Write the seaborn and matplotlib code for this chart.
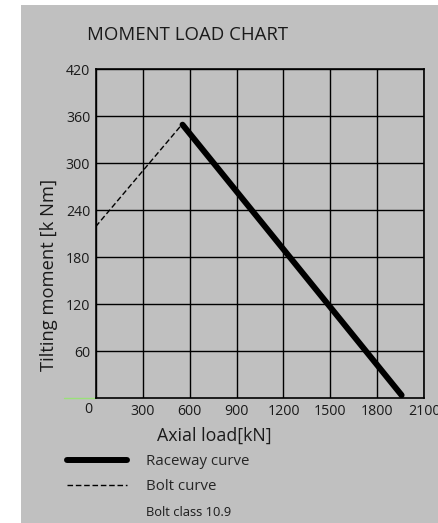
import matplotlib
matplotlib.use("Agg")
import matplotlib.pyplot as plt
import pandas as pd
import seaborn as sns
from matplotlib.patches import Rectangle

# chart data
bolt_load = [0, 550]
bolt_moment = [219, 349]
raceway_load = [555, 1955]
raceway_moment = [349, 4]

x_ticks = [0, 300, 600, 900, 1200, 1500, 1800, 2100]
y_ticks = [60, 120, 180, 240, 300, 360, 420]

GREY = '#c0c0c0'
INK = '#1a1a1a'

sns.set_theme(style="white")
plt.rcParams['font.family'] = ['Open Sans', 'DejaVu Sans']

fig = plt.figure(figsize=(4.39, 5.23), dpi=100)
fig.patch.set_facecolor('white')
fig.add_artist(Rectangle((21 / 439, 0), 1 - 21 / 439, 1 - 5 / 523,
                         transform=fig.transFigure, facecolor=GREY,
                         edgecolor='none', zorder=-10))

ax = fig.add_axes([0.218, 0.2384, 0.7485, 0.6296])
ax.set_facecolor(GREY)

bolt = pd.DataFrame({'load': bolt_load, 'moment': bolt_moment})
raceway = pd.DataFrame({'load': raceway_load, 'moment': raceway_moment})

sns.lineplot(data=raceway, x='load', y='moment', ax=ax, color='black',
             linewidth=4.3, label='Raceway curve', zorder=5)
sns.lineplot(data=bolt, x='load', y='moment', ax=ax, color='black',
             linewidth=1, linestyle=(0, (4, 2)), label='Bolt curve', zorder=5)

ax.set_xlim(0, 2100)
ax.set_ylim(0, 420)
ax.set_xticks(x_ticks)
ax.set_xticklabels([''] + [str(t) for t in x_ticks[1:]])
ax.set_yticks(y_ticks)
ax.grid(True, color='black', linewidth=1)
ax.tick_params(length=0, labelsize=10.2, colors=INK, pad=4)
for s in ax.spines.values():
    s.set_color('black')
    s.set_linewidth(1.2)

# zero label sits a little left of the origin
ax.text(-49, -14, '0', ha='center', va='center', fontsize=10.2, color=INK)
ax.plot([-203, 0], [0, 0], color='#9be07a', linewidth=1, clip_on=False)

ax.set_xlabel('Axial load[kN]', fontsize=12.8, color=INK)
ax.xaxis.set_label_coords(0.3615, -0.087)
ax.set_ylabel('Tilting moment [k Nm]', fontsize=13.2, color=INK)
ax.yaxis.set_label_coords(-0.115, 0.374)

fig.text(87 / 439, 1 - 35 / 523, 'MOMENT LOAD CHART', fontsize=13.4,
         color=INK, va='center', ha='left')

handles, labels = ax.get_legend_handles_labels()
ax.get_legend().remove()
fig.legend(handles, labels, loc='upper left', bbox_to_anchor=(67 / 439, 1 - 454 / 523),
           frameon=False, fontsize=10.8, handlelength=4.0, handletextpad=1.25,
           labelspacing=0.7, borderpad=0, borderaxespad=0)
fig.text(146 / 439, 1 - 513 / 523, 'Bolt class 10.9', fontsize=9.3,
         color=INK, va='center', ha='left')

fig.savefig('out.png', dpi=100)
